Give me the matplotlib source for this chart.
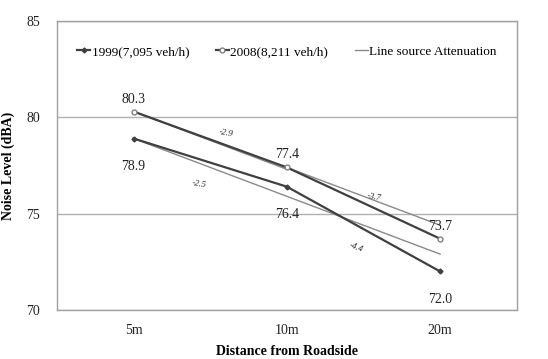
import numpy as np
import matplotlib
matplotlib.use("Agg")
import matplotlib.pyplot as plt

plt.rcParams['font.family'] = ['Liberation Serif', 'DejaVu Serif']

distances = ['5m', '10m', '20m']
noise_1999 = [78.9, 76.4, 72.0]
noise_2008 = [80.3, 77.4, 73.7]
# line source attenuation (-3 dB per doubling of distance)
atten_1999 = [78.9, 75.9, 72.9]
atten_2008a = [80.3, 77.3, np.nan]
atten_2008b = [np.nan, 77.4, 74.4]
diff_labels = ['-2.9', '-2.5', '-3.7', '-4.4']

x = np.arange(len(distances))

fig = plt.figure(figsize=(5.48, 3.59), dpi=100)
ax = fig.add_axes([0.104, 0.1365, 0.839, 0.805])

ax.plot(x, atten_1999, color='#8a8a8a', lw=1.0, zorder=2, label='Line source Attenuation')
ax.plot(x, atten_2008a, color='#8a8a8a', lw=1.0, zorder=2)
ax.plot(x, atten_2008b, color='#8a8a8a', lw=1.0, zorder=2)
ax.plot(x, noise_1999, color='#404040', lw=1.6, marker='D', ms=2.5,
        mfc='#404040', mec='#404040', zorder=3, label='1999(7,095 veh/h)')
ax.plot(x, noise_2008, color='#404040', lw=1.6, marker='o', ms=3.5,
        mfc='white', mec='#808080', zorder=3, label='2008(8,211 veh/h)')

ax.set_xlim(-0.5, 2.5)
ax.set_ylim(70, 85)
ax.set_yticks([70, 75, 80, 85])
ax.set_xticks(x)
ax.set_xticklabels(distances)
ax.yaxis.grid(True, color='#b0b0b0', lw=1.0)
ax.set_axisbelow(True)
for s in ax.spines.values():
    s.set_color('#a0a0a0')
    s.set_linewidth(1.0)
ax.tick_params(length=0, labelsize=10, colors='#222222')
ax.tick_params(axis='y', pad=12)
ax.tick_params(axis='x', pad=10)

ax.set_xlabel('Distance from Roadside', fontsize=10, fontweight='bold', labelpad=6)
ax.set_ylabel('Noise Level (dBA)', fontsize=10, fontweight='bold')
ax.yaxis.set_label_coords(-0.092, 0.5)

# value labels
for xi, v in zip(x, noise_2008):
    ax.annotate(f'{v:.1f}', (xi, v), xytext=(0, 9), textcoords='offset points',
                ha='center', va='center', fontsize=10, color='#222222')
for xi, v in zip(x, noise_1999):
    ax.annotate(f'{v:.1f}', (xi, v), xytext=(0, -20), textcoords='offset points',
                ha='center', va='center', fontsize=10, color='#222222')

# slope labels
slope_pos = [(0.6, 79.15, -10), (0.43, 76.55, -10), (1.57, 75.85, -10), (1.45, 73.25, -20)]
for lab, (px, py, rot) in zip(diff_labels, slope_pos):
    ax.text(px, py, lab, fontsize=6.5, style='italic', ha='center', va='center',
            rotation=rot, color='#222222')

handles, labels = ax.get_legend_handles_labels()
order = [1, 2, 0]
ax.legend([handles[i] for i in order], [labels[i] for i in order],
          loc='upper center', bbox_to_anchor=(0.5, 0.955), ncol=3, frameon=False,
          fontsize=9.5, handlelength=1.0, handletextpad=0.1, columnspacing=2.0)

fig.savefig('out.png', dpi=100, facecolor='white')
